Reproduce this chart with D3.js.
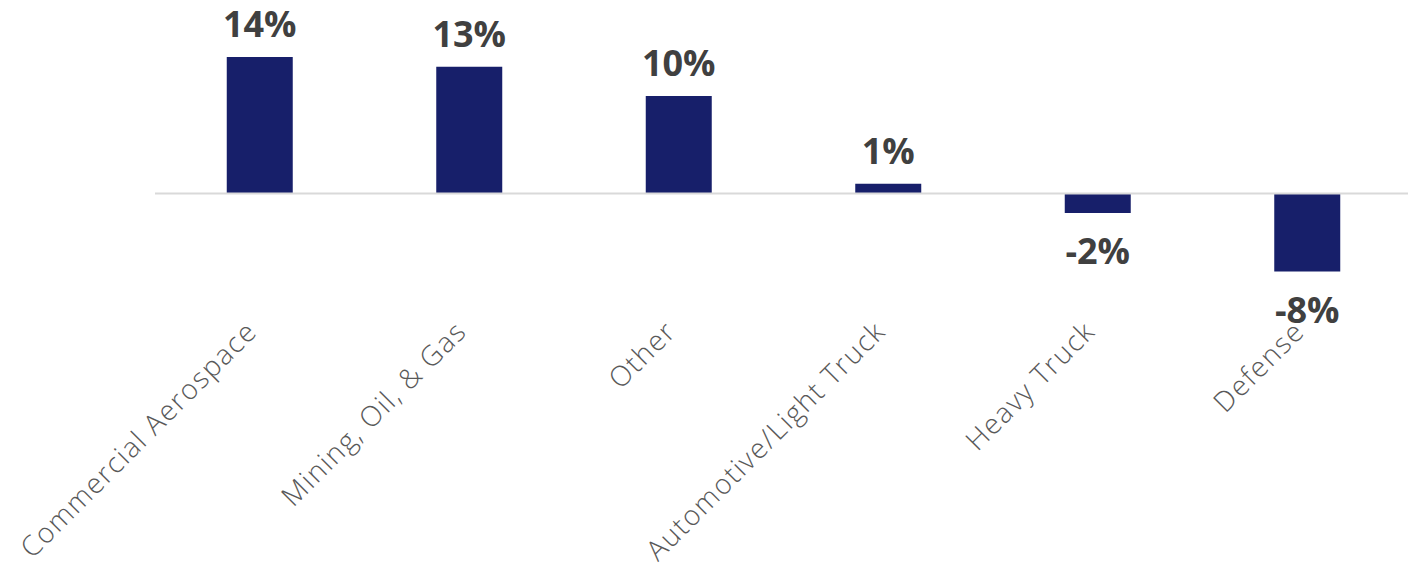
<!DOCTYPE html>
<html>
<head>
<meta charset="utf-8">
<script src="https://cdn.jsdelivr.net/npm/d3@7"></script>
<style>
  html, body { margin: 0; padding: 0; background: #ffffff; }
  svg { display: block; }
  .value-label { font-family: "Open Sans", sans-serif; font-weight: 700; font-size: 36px; fill: #404040; }
  .cat-label { font-family: "Open Sans", sans-serif; font-weight: 300; font-size: 28px; fill: #595959; letter-spacing: 1.5px; }
</style>
</head>
<body>
<svg id="chart" width="1408" height="570"></svg>
<script>
// Year-over-year change by end market (%)
const categories = ["Commercial Aerospace", "Mining, Oil, & Gas", "Other", "Automotive/Light Truck", "Heavy Truck", "Defense"];
const values = [14, 13, 10, 1, -2, -8];
const valueLabels = ["14%", "13%", "10%", "1%", "-2%", "-8%"];

const svg = d3.select("#chart");

const x = d3.scaleBand()
  .domain(categories)
  .range([155, 1412])
  .paddingInner(0.685)
  .paddingOuter(0.3425);

const y = d3.scaleLinear()
  .domain([-8, 14])
  .range([271.5, 57]);

const barColor = "#171F6A";

// bars
svg.append("g")
  .selectAll("rect")
  .data(values)
  .join("rect")
  .attr("x", (d, i) => x(categories[i]))
  .attr("width", x.bandwidth())
  .attr("y", d => y(Math.max(0, d)))
  .attr("height", d => Math.abs(y(d) - y(0)))
  .attr("fill", barColor);

// zero line
svg.append("line")
  .attr("x1", 155)
  .attr("x2", 1408)
  .attr("y1", y(0))
  .attr("y2", y(0))
  .attr("stroke", "#D9D9D9")
  .attr("stroke-width", 2);

// value labels
svg.append("g")
  .selectAll("text")
  .data(values)
  .join("text")
  .attr("class", "value-label")
  .attr("text-anchor", "middle")
  .attr("x", (d, i) => x(categories[i]) + x.bandwidth() / 2)
  .attr("y", d => d >= 0 ? y(d) - 20 : y(d) + 51)
  .text((d, i) => valueLabels[i]);

// category labels, rotated
svg.append("g")
  .selectAll("text")
  .data(categories)
  .join("text")
  .attr("class", "cat-label")
  .attr("text-anchor", "end")
  .attr("transform", d => `translate(${x(d) + x.bandwidth() / 2 - 1},333) rotate(-45)`)
  .text(d => d);
</script>
</body>
</html>
